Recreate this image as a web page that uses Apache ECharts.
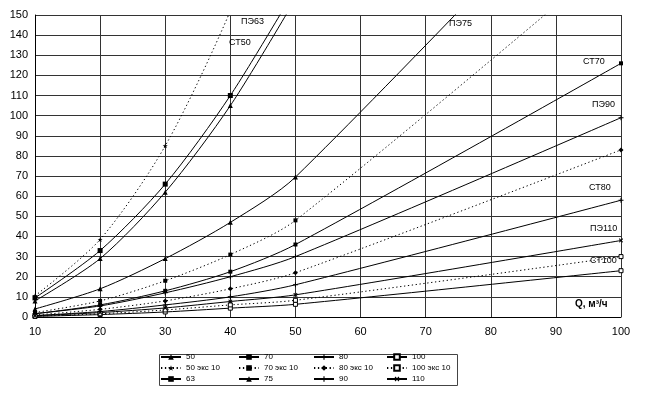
<!DOCTYPE html>
<html><head><meta charset="utf-8">
<script src="https://cdn.jsdelivr.net/npm/echarts@6/dist/echarts.min.js"></script>
<style>html,body{margin:0;padding:0;background:#fff}#c{width:646px;height:396px}</style>
</head><body><div id="c"></div>
<script>
const flow = [10, 20, 30, 40, 50, 100];
const xTicks = [10, 100, 10];
const yTicks = [0, 150, 10];
const st50 = [8, 29, 62, 105, 158, null];
const st70 = [1.6, 6, 13, 22.5, 36, 126];
const st80 = [0.7, 2.7, 6, 10, 16, 58];
const st100 = [0.3, 1.2, 2.5, 4.4, 6.3, 23];
const st50e = [10.5, 38.5, 85, 152, 236, null];
const st70e = [2.2, 8, 18, 31, 48, 182];
const st80e = [1, 3.8, 8, 14, 22, 83];
const st100e = [0.4, 1.6, 3.5, 6, 8.3, 30];
const pe63 = [9.5, 33, 66, 110, 163, null];
const pe75 = [4, 14, 29, 47, 69.5, 236];
const pe90 = [1.7, 5.5, 12, 20, 30, 99];
const pe110 = [0.6, 2.2, 4.5, 7.7, 11, 38];
const seriesNames = ['50','70','80','100','50 экс 10','70 экс 10','80 экс 10','100 экс 10','63','75','90','110'];
const curveLabels = ['ПЭ63','СТ50','ПЭ75','СТ70','ПЭ90','СТ80','ПЭ110','СТ100'];

const PLUS = 'path://M4,0L6,0L6,4L10,4L10,6L6,6L6,10L4,10L4,6L0,6L0,4L4,4Z';
const STAR = 'path://M5,0L6.2,3.6L10,3.6L7,5.9L8.1,9.5L5,7.3L1.9,9.5L3,5.9L0,3.6L3.8,3.6Z';

function mk(name, data, symbol, dotted, opts) {
  opts = opts || {};
  return {
    name: name, type: 'line', smooth: 0.28,
    data: flow.map((q, i) => [q, data[i]]),
    symbol: symbol, symbolSize: opts.size || 5, symbolRotate: opts.rot || 0,
    showAllSymbol: true, connectNulls: false,
    lineStyle: { color: '#000', width: 1, type: dotted ? [1.3, 2.6] : 'solid' },
    itemStyle: { color: opts.empty ? '#fff' : '#000', borderColor: '#000', borderWidth: opts.empty ? 1 : 0 },
    emphasis: { disabled: true }, animation: false
  };
}
const chart = echarts.init(document.getElementById('c'), null, { renderer: 'canvas' });
const lgText = { fontSize: 8, fontFamily: 'Arial', color: '#000' };
function lg(left, data) {
  return { data: data, orient: 'vertical', left: left, top: 353, itemWidth: 20, itemHeight: 7,
    itemGap: 3, itemTextGap: 4, textStyle: lgText, padding: 0, selectedMode: false };
}
const labelPos = [[241,17],[229,38],[449,19],[583,57],[592,100],[589,183],[590,224],[590,256]];
const graphics = curveLabels.map((t, i) => ({ type: 'text', left: labelPos[i][0], top: labelPos[i][1],
  style: { text: t, font: '9px Arial', fill: '#000' }, z: 10 }));
graphics.push({ type: 'text', left: 575, top: 299, style: { text: 'Q, м³/ч', font: 'bold 10px Arial', fill: '#000' }, z: 10 });
graphics.push({ type: 'rect', left: 157, top: 352, shape: { width: 298, height: 31 },
  style: { fill: 'none', stroke: '#444', lineWidth: 1 }, z: 0 });
chart.setOption({
  animation: false,
  grid: { left: 35, right: 25, top: 15, bottom: 79 },
  xAxis: { type: 'value', min: xTicks[0], max: xTicks[1], interval: xTicks[2],
    axisLine: { lineStyle: { color: '#000' } }, axisTick: { show: false },
    axisLabel: { fontSize: 11, fontFamily: 'Arial', color: '#000', margin: 9 },
    splitLine: { show: true, lineStyle: { color: '#333', width: 1 } } },
  yAxis: { type: 'value', min: yTicks[0], max: yTicks[1], interval: yTicks[2],
    axisLine: { show: true, lineStyle: { color: '#000' } }, axisTick: { show: false },
    axisLabel: { fontSize: 11, fontFamily: 'Arial', color: '#000', margin: 7 },
    splitLine: { show: true, lineStyle: { color: '#333', width: 1 } } },
  legend: [
    lg(160, ['50', '50 экс 10', '63']),
    lg(238, ['70', '70 экс 10', '75']),
    lg(313, ['80', '80 экс 10', '90']),
    lg(386, ['100', '100 экс 10', '110'])
  ],
  graphic: graphics,
  series: [
    mk(seriesNames[0], st50, 'triangle', false),
    mk(seriesNames[1], st70, 'rect', false, { size: 4 }),
    mk(seriesNames[2], st80, PLUS, false),
    mk(seriesNames[3], st100, 'rect', false, { empty: true, size: 4 }),
    mk(seriesNames[4], st50e, STAR, true),
    mk(seriesNames[5], st70e, 'rect', true, { size: 4 }),
    mk(seriesNames[6], st80e, 'diamond', true),
    mk(seriesNames[7], st100e, 'rect', true, { empty: true, size: 4 }),
    mk(seriesNames[8], pe63, 'rect', false, { size: 5 }),
    mk(seriesNames[9], pe75, 'triangle', false),
    mk(seriesNames[10], pe90, PLUS, false),
    mk(seriesNames[11], pe110, PLUS, false, { rot: 45 })
  ]
});
</script></body></html>
